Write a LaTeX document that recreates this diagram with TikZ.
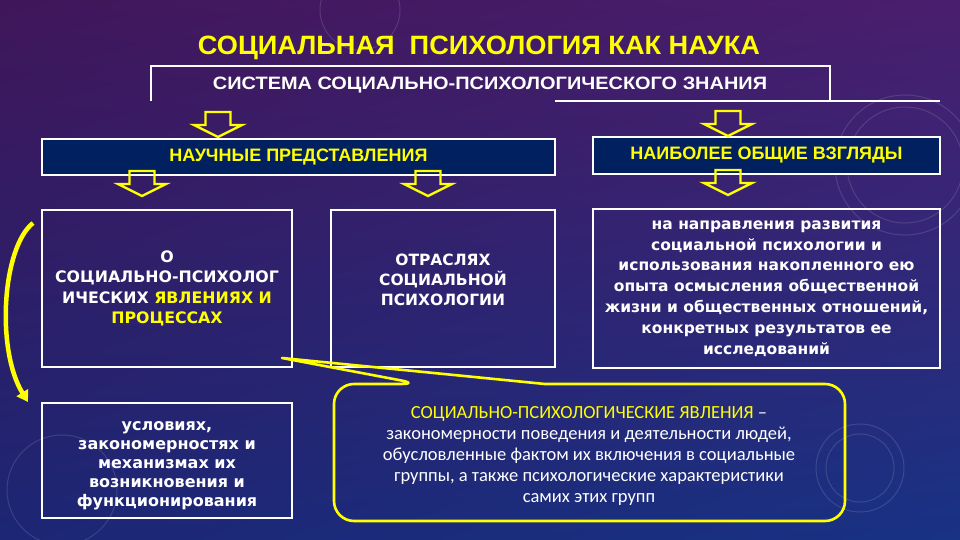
\documentclass[tikz,border=0pt]{standalone}
\usepackage{fontspec}
\setmainfont{Liberation Sans}
\newfontfamily\dvfont{DejaVu Sans}
\newfontfamily\clfont{Carlito}
\usetikzlibrary{arrows.meta,shadings}
\definecolor{bgTL}{RGB}{64,22,90}
\definecolor{bgTR}{RGB}{74,30,110}
\definecolor{bgBL}{RGB}{28,38,116}
\definecolor{bgBR}{RGB}{24,50,132}
\definecolor{navyfill}{RGB}{0,32,96}
\definecolor{ylw}{RGB}{255,255,0}
\newcommand{\blkarrow}[2]{%
  \draw[blockarr, shift={(#1,#2)}] (-12.5,0) -- (12.5,0) -- (12.5,13) -- (24,13) -- (0,25) -- (-24,13) -- (-12.5,13) -- cycle;}
\begin{document}
\begin{tikzpicture}[x=1pt,y=-1pt,
  frameline/.style={white, line width=1.6pt},
  hdr/.style={draw=white, line width=2pt, fill=navyfill, text=ylw, font=\bfseries\fontsize{18}{20}\selectfont, inner sep=0pt},
  wbox/.style={draw=white, line width=1.6pt, text=white, align=center, inner sep=0pt},
  wtext/.style={text=white, align=center, inner sep=0pt},
  blockarr/.style={draw=ylw, line width=2.4pt, line join=miter},
  callout/.style={draw=ylw, line width=2.6pt, line join=round},
  curvarr/.style={draw=ylw, line width=4.5pt, -{Triangle[length=11pt,width=13pt]}},
  deco/.style={draw=white, opacity=0.13, line width=1pt}]
\useasboundingbox (0,0) rectangle (960,540);
\shade[upper left=bgTL, upper right=bgTR, lower left=bgBL, lower right=bgBR] (0,0) rectangle (960,540);
% faint background decorations
\draw[deco] (905,165) circle[radius=58];
\draw[deco] (905,165) circle[radius=70];
\draw[deco] (860,468) circle[radius=34];
\draw[deco] (860,468) circle[radius=44];
\draw[deco] (62,490) circle[radius=55];
\draw[deco] (360,10) circle[radius=40];
% title
\node[inner sep=0pt, anchor=base, text=ylw] (title) at (479,55) {\resizebox{562pt}{18.5pt}{\bfseries СОЦИАЛЬНАЯ\ \ ПСИХОЛОГИЯ КАК НАУКА}};
% frame
\coordinate (f1) at (151,101);
\coordinate (f2) at (151,66);
\coordinate (f3) at (830,66);
\coordinate (f4) at (830,101);
\coordinate (g1) at (555,101);
\coordinate (g2) at (940,101);
\draw[frameline] (f1) -- (f2) -- (f3) -- (f4);
\draw[frameline] (g1) -- (g2);
\node[inner sep=0pt, anchor=base, text=white] (sub) at (490,89.5) {\resizebox{554pt}{12.5pt}{\bfseries СИСТЕМА СОЦИАЛЬНО-ПСИХОЛОГИЧЕСКОГО ЗНАНИЯ}};
% header boxes
\node[hdr, minimum width=513pt, minimum height=36pt] (h1) at (298.5,157) {НАУЧНЫЕ ПРЕДСТАВЛЕНИЯ};
\node[hdr, minimum width=347pt, minimum height=37pt, text depth=4pt] (h2) at (766.5,155.5) {НАИБОЛЕЕ ОБЩИЕ ВЗГЛЯДЫ};
% block arrows
\blkarrow{218}{112}
\blkarrow{728}{111}
\blkarrow{142}{171}
\blkarrow{428}{171}
\blkarrow{728}{170}
% boxes
\node[wbox, minimum width=250pt, minimum height=157pt, font=\dvfont\bfseries\fontsize{15.8}{20.5}\selectfont] (a) at (167,288.5)
  {О\\СОЦИАЛЬНО-ПСИХОЛОГ\\ИЧЕСКИХ \textcolor{ylw}{ЯВЛЕНИЯХ И}\\\textcolor{ylw}{ПРОЦЕССАХ}};
\node[wbox, minimum width=224pt, minimum height=157pt] (b) at (443,288.5) {};
\node[wtext, font=\dvfont\bfseries\fontsize{15.5}{20}\selectfont] (btext) at (443,280) {ОТРАСЛЯХ\\СОЦИАЛЬНОЙ\\ПСИХОЛОГИИ};
\node[wbox, minimum width=347pt, minimum height=159pt, font=\dvfont\bfseries\fontsize{15.5}{20.8}\selectfont] (c) at (766.5,288.5)
  {на направления развития\\социальной психологии и\\использования накопленного ею\\опыта осмысления общественной\\жизни и общественных отношений,\\конкретных результатов ее\\исследований};
\node[wbox, minimum width=250pt, minimum height=115pt] (d) at (167,460.5) {};
\node[wtext, font=\dvfont\bfseries\fontsize{16}{19}\selectfont] (dtext) at (167,466)
  {условиях,\\закономерностях и\\механизмах их\\возникновения и\\функционирования};
% callout
\coordinate (tip) at (282,358);
\coordinate (k0) at (600,384);
\coordinate (k1) at (845,384);
\coordinate (k2) at (845,521);
\coordinate (k3) at (334,521);
\coordinate (k4) at (334,384);
\coordinate (k5) at (420,384);
\coordinate (k6) at (545,384);
\draw[callout] (k0) [rounded corners=20pt] -- (k1) -- (k2) -- (k3) -- (k4) -- (k5) [sharp corners] -- (tip) -- (k6) -- cycle;
\node[wtext, font=\clfont\fontsize{18.5}{21}\selectfont] (ctext) at (589,456)
  {\textcolor{ylw}{СОЦИАЛЬНО-ПСИХОЛОГИЧЕСКИЕ ЯВЛЕНИЯ} –\\закономерности поведения и деятельности людей,\\обусловленные фактом их включения в социальные\\группы, а также психологические характеристики\\самих этих групп};
% curved arrow
\coordinate (ca1) at (33,223);
\coordinate (ca2) at (28,402);
\draw[curvarr] (ca1) .. controls (2,248) and (-4,350) .. (ca2);
\end{tikzpicture}
\end{document}
